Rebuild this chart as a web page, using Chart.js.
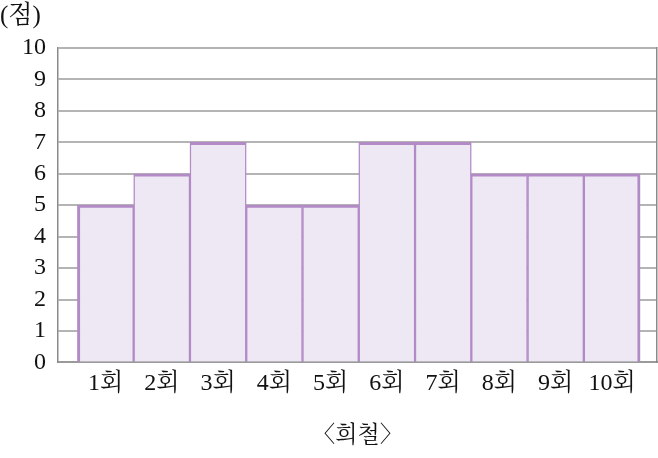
<!DOCTYPE html>
<html>
<head>
<meta charset="utf-8">
<script src="https://cdn.jsdelivr.net/npm/chart.js@4"></script>
<style>
  html, body { margin: 0; padding: 0; background: #fff; }
  #wrap { width: 658px; height: 458px; }
</style>
</head>
<body>
<div id="wrap"><canvas id="myChart"></canvas></div>
<script>
// 자료
const categories = ["1회", "2회", "3회", "4회", "5회", "6회", "7회", "8회", "9회", "10회"];
const scores = [5, 6, 7, 5, 5, 7, 7, 6, 6, 6];
const yTicks = [0, 1, 2, 3, 4, 5, 6, 7, 8, 9, 10];
const unitLabel = "(점)";
const chartTitle = "〈희철〉";

const fontFamily = "'Liberation Serif', 'Noto Serif CJK KR', 'Noto Sans CJK KR', serif";
const lastIndex = categories.length - 1;

loadchart();
function loadchart() {
  const data = {
    datasets: [
      {
        data: scores.map((v, i) => ({ x: i, y: v })),
        backgroundColor: "rgb(238, 232, 244)",
        borderColor: "rgb(178, 138, 198)",
        borderWidth: (ctx) => ({
          top: 3,
          bottom: 0,
          left: ctx.dataIndex === 0 ? 3 : 1.5,
          right: ctx.dataIndex === lastIndex ? 3 : 1.5,
        }),
        borderSkipped: "start",
        categoryPercentage: 1,
        barPercentage: 1,
        xAxisID: "x",
        yAxisID: "y",
      },
    ],
  };

  const config = {
    type: "bar",
    data: data,
    options: {
      responsive: true,
      maintainAspectRatio: false,
      animation: false,
      layout: { padding: { top: 0, left: 0, right: 0, bottom: 0 } },
      plugins: {
        legend: { display: false },
        tooltip: { enabled: false },
        subtitle: {
          display: true,
          text: unitLabel,
          position: "top",
          align: "start",
          color: "#111",
          font: { family: fontFamily, size: 25 },
          padding: { top: 1, bottom: 17 },
        },
        title: {
          display: true,
          text: chartTitle,
          position: "bottom",
          fullSize: false,
          color: "#111",
          font: { family: fontFamily, size: 23, weight: "normal" },
          padding: { top: 20, bottom: 8 },
        },
      },
      scales: {
        x: {
          type: "linear",
          offset: false,
          min: -0.845,
          max: 9.8,
          afterBuildTicks: (scale) => {
            scale.ticks = categories.map((c, i) => ({ value: i }));
          },
          afterFit: (scale) => {
            scale.height = 40;
          },
          ticks: {
            autoSkip: false,
            maxRotation: 0,
            padding: 7,
            color: "#111",
            font: { family: fontFamily, size: 24 },
            callback: (value, index) => categories[index],
          },
          grid: { display: false, drawTicks: false },
          border: { display: true, color: "#9a9a9a", width: 2 },
        },
        y: {
          min: 0,
          max: 10,
          afterBuildTicks: (scale) => {
            scale.ticks = yTicks.map((v) => ({ value: v }));
          },
          afterFit: (scale) => {
            scale.width = 58;
          },
          ticks: {
            autoSkip: false,
            padding: 12,
            color: "#111",
            font: { family: fontFamily, size: 24 },
          },
          grid: { color: "#b4b4b4", lineWidth: 2, drawTicks: false },
          border: { display: true, color: "#8a8a8a", width: 1.5 },
        },
        y2: {
          position: "right",
          min: 0,
          max: 10,
          afterFit: (scale) => {
            scale.width = 1;
          },
          ticks: { display: false },
          grid: { display: false, drawTicks: false },
          border: { display: true, color: "#8a8a8a", width: 1.5 },
        },
      },
    },
  };
  const myChart = new Chart(document.getElementById("myChart"), config);
}
</script>
</body>
</html>
